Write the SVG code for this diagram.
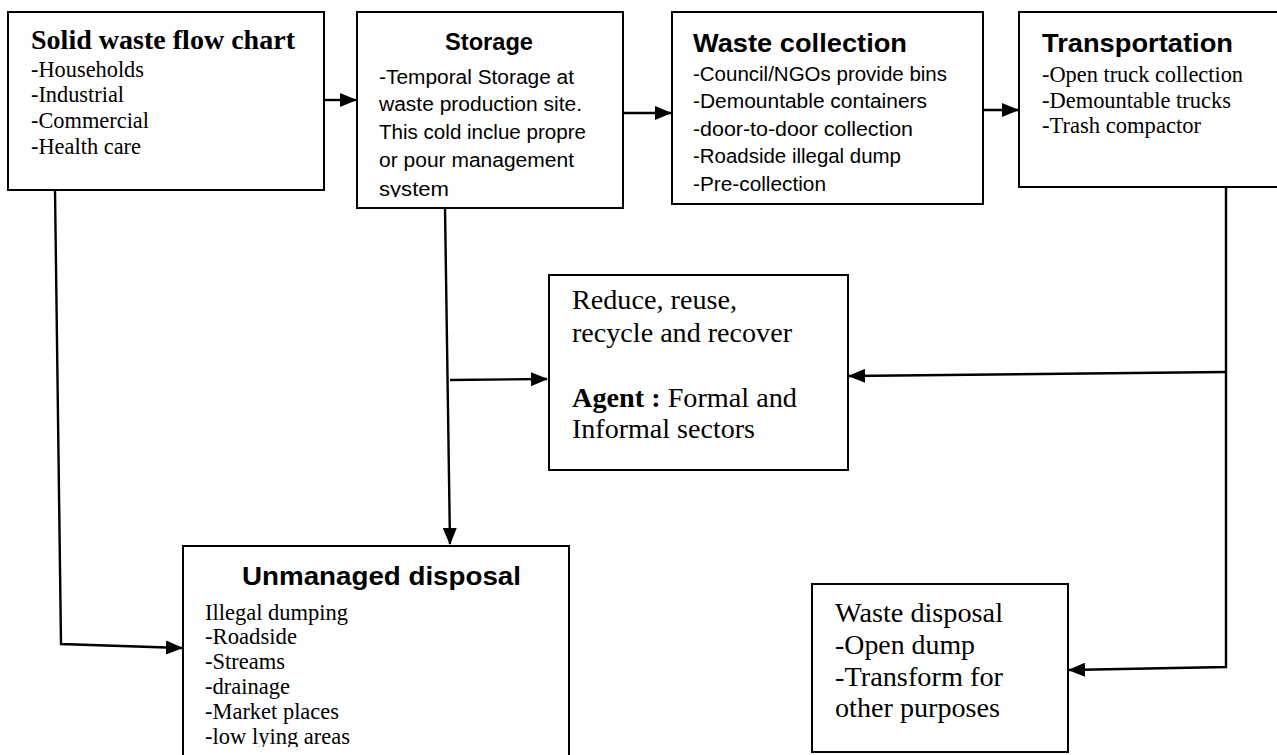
<svg xmlns="http://www.w3.org/2000/svg" width="1277" height="755" viewBox="0 0 1277 755">
<style>
.box{fill:#fff;stroke:#000;stroke-width:2}
.ln{fill:none;stroke:#000;stroke-width:2.4}
.serif{font-family:"Liberation Serif","Times New Roman",serif;fill:#000}
.sans{font-family:"Liberation Sans",Arial,sans-serif;fill:#000}
.b{font-weight:bold}
</style>
<defs>
<marker id="ah" markerUnits="userSpaceOnUse" markerWidth="17" markerHeight="14" refX="16" refY="7" orient="auto">
<path d="M0,0 L17,7 L0,14 Z" fill="#000"/>
</marker>
<clipPath id="clipStorage"><rect x="357" y="12" width="266" height="185"/></clipPath>
<clipPath id="clipUnmanaged"><rect x="183" y="545" width="386" height="202"/></clipPath>
</defs>

<g id="connectors">
<path class="ln" d="M324,100 L356,100" marker-end="url(#ah)"/>
<path class="ln" d="M623,113 L671,113" marker-end="url(#ah)"/>
<path class="ln" d="M983,110 L1018,110" marker-end="url(#ah)"/>
<path class="ln" d="M55,190 L61,644 L182,648" marker-end="url(#ah)"/>
<path class="ln" d="M445,208 L450,544" marker-end="url(#ah)"/>
<path class="ln" d="M450,380 L547,379" marker-end="url(#ah)"/>
<path class="ln" d="M1226,186 L1226,667 L1069,670" marker-end="url(#ah)"/>
<path class="ln" d="M1226,372 L849,376" marker-end="url(#ah)"/>
</g>

<g id="node-solid-waste">
<rect class="box" x="8" y="12" width="316" height="178"/>
<text class="serif b" x="31" y="49" font-size="28" textLength="264" lengthAdjust="spacingAndGlyphs">Solid waste flow chart</text>
<text class="serif" x="31" y="77" font-size="23" textLength="113" lengthAdjust="spacingAndGlyphs">-Households</text>
<text class="serif" x="31" y="102" font-size="23" textLength="93" lengthAdjust="spacingAndGlyphs">-Industrial</text>
<text class="serif" x="31" y="128" font-size="23" textLength="118" lengthAdjust="spacingAndGlyphs">-Commercial</text>
<text class="serif" x="31" y="154" font-size="23" textLength="110" lengthAdjust="spacingAndGlyphs">-Health care</text>
</g>

<g id="node-storage">
<rect class="box" x="357" y="12" width="266" height="196"/>
<text class="sans b" x="445" y="50" font-size="24" textLength="88" lengthAdjust="spacingAndGlyphs">Storage</text>
<g clip-path="url(#clipStorage)">
<text class="sans" x="379" y="84" font-size="20" textLength="195" lengthAdjust="spacingAndGlyphs">-Temporal Storage at</text>
<text class="sans" x="379" y="111" font-size="20" textLength="203" lengthAdjust="spacingAndGlyphs">waste production site.</text>
<text class="sans" x="379" y="139" font-size="20" textLength="207" lengthAdjust="spacingAndGlyphs">This cold inclue propre</text>
<text class="sans" x="379" y="167" font-size="20" textLength="195" lengthAdjust="spacingAndGlyphs">or pour management</text>
<text class="sans" x="379" y="196" font-size="20" textLength="70" lengthAdjust="spacingAndGlyphs">system</text>
</g>
</g>

<g id="node-waste-collection">
<rect class="box" x="672" y="12" width="311" height="192"/>
<text class="sans b" x="693" y="52" font-size="26" textLength="214" lengthAdjust="spacingAndGlyphs">Waste collection</text>
<text class="sans" x="693" y="81" font-size="20" textLength="254" lengthAdjust="spacingAndGlyphs">-Council/NGOs provide bins</text>
<text class="sans" x="693" y="108" font-size="20" textLength="234" lengthAdjust="spacingAndGlyphs">-Demountable containers</text>
<text class="sans" x="693" y="136" font-size="20" textLength="220" lengthAdjust="spacingAndGlyphs">-door-to-door collection</text>
<text class="sans" x="693" y="163" font-size="20" textLength="208" lengthAdjust="spacingAndGlyphs">-Roadside illegal dump</text>
<text class="sans" x="693" y="191" font-size="20" textLength="133" lengthAdjust="spacingAndGlyphs">-Pre-collection</text>
</g>

<g id="node-transportation">
<rect class="box" x="1019" y="12" width="280" height="175"/>
<text class="sans b" x="1042" y="52" font-size="26" textLength="191" lengthAdjust="spacingAndGlyphs">Transportation</text>
<text class="serif" x="1042" y="82" font-size="23" textLength="201" lengthAdjust="spacingAndGlyphs">-Open truck collection</text>
<text class="serif" x="1042" y="108" font-size="23" textLength="189" lengthAdjust="spacingAndGlyphs">-Demountable trucks</text>
<text class="serif" x="1042" y="133" font-size="23" textLength="159" lengthAdjust="spacingAndGlyphs">-Trash compactor</text>
</g>

<g id="node-recycle">
<rect class="box" x="549" y="275" width="299" height="195"/>
<text class="serif" x="572" y="309" font-size="28" textLength="165" lengthAdjust="spacingAndGlyphs">Reduce, reuse,</text>
<text class="serif" x="572" y="342" font-size="28" textLength="220" lengthAdjust="spacingAndGlyphs">recycle and recover</text>
<text class="serif" x="572" y="407" font-size="28" textLength="225" lengthAdjust="spacingAndGlyphs"><tspan font-weight="bold">Agent :</tspan> Formal and</text>
<text class="serif" x="572" y="438" font-size="28" textLength="183" lengthAdjust="spacingAndGlyphs">Informal sectors</text>
</g>

<g id="node-unmanaged">
<rect class="box" x="183" y="546" width="386" height="220"/>
<text class="sans b" x="242" y="585" font-size="26" textLength="279" lengthAdjust="spacingAndGlyphs">Unmanaged disposal</text>
<g clip-path="url(#clipUnmanaged)">
<text class="serif" x="205" y="620" font-size="23" textLength="143" lengthAdjust="spacingAndGlyphs">Illegal dumping</text>
<text class="serif" x="205" y="644" font-size="23" textLength="92" lengthAdjust="spacingAndGlyphs">-Roadside</text>
<text class="serif" x="205" y="669" font-size="23" textLength="80" lengthAdjust="spacingAndGlyphs">-Streams</text>
<text class="serif" x="205" y="694" font-size="23" textLength="85" lengthAdjust="spacingAndGlyphs">-drainage</text>
<text class="serif" x="205" y="719" font-size="23" textLength="134" lengthAdjust="spacingAndGlyphs">-Market places</text>
<text class="serif" x="205" y="744" font-size="23" textLength="145" lengthAdjust="spacingAndGlyphs">-low lying areas</text>
</g>
</g>

<g id="node-waste-disposal">
<rect class="box" x="812" y="584" width="256" height="168"/>
<text class="serif" x="835" y="622" font-size="28" textLength="168" lengthAdjust="spacingAndGlyphs">Waste disposal</text>
<text class="serif" x="835" y="654" font-size="28" textLength="140" lengthAdjust="spacingAndGlyphs">-Open dump</text>
<text class="serif" x="835" y="686" font-size="28" textLength="168" lengthAdjust="spacingAndGlyphs">-Transform for</text>
<text class="serif" x="835" y="717" font-size="28" textLength="165" lengthAdjust="spacingAndGlyphs">other purposes</text>
</g>
</svg>
